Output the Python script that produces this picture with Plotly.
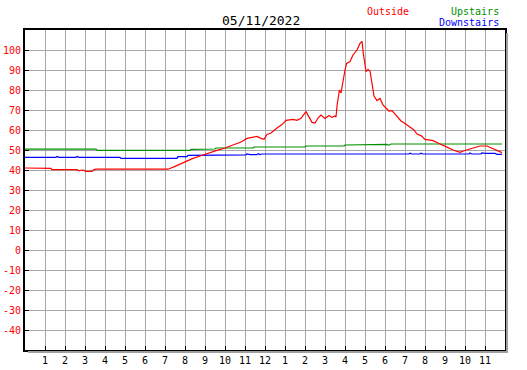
import plotly.graph_objects as go

# ---------------- data ----------------
title_text = "05/11/2022"

x_tick_vals = list(range(1, 24))
x_tick_text = ["1", "2", "3", "4", "5", "6", "7", "8", "9", "10", "11", "12",
               "1", "2", "3", "4", "5", "6", "7", "8", "9", "10", "11"]
y_tick_vals = [-40, -30, -20, -10, 0, 10, 20, 30, 40, 50, 60, 70, 80, 90, 100]
y_tick_text = ["-40", "-30", "-20", "-10", "0", "10", "20", "30", "40", "50",
               "60", "70", "80", "90", "100"]

outside_hours = [0.00, 1.30, 1.35, 2.60, 2.70, 2.85, 2.95, 3.05, 3.35, 3.45, 3.55,
                 7.15, 7.50, 8.00, 8.40, 8.75, 9.20, 9.60, 10.00, 10.40, 10.80,
                 11.10, 11.40, 11.60, 11.80, 11.95, 12.10, 12.30, 12.60, 12.85,
                 13.05, 13.40, 13.60, 13.80, 14.05, 14.20, 14.35, 14.50, 14.65,
                 14.80, 15.00, 15.20, 15.35, 15.50, 15.55, 15.60, 15.72, 15.80,
                 15.90, 16.00, 16.08, 16.25, 16.40, 16.60, 16.75, 16.85, 16.92,
                 16.98, 17.05, 17.15, 17.25, 17.35, 17.45, 17.60, 17.75, 17.90,
                 18.05, 18.20, 18.35, 18.55, 18.80, 19.00, 19.25, 19.45, 19.60,
                 19.80, 20.00, 20.40, 20.65, 20.90, 21.15, 21.40, 21.60, 21.75,
                 21.95, 22.10, 22.40, 22.75, 23.10, 23.35, 23.60, 23.85]
outside_temps = [41.0, 40.8, 40.2, 40.2, 39.6, 40.0, 39.8, 39.3, 39.3, 40.2, 40.4,
                 40.4, 41.8, 44.2, 45.8, 47.0, 48.6, 49.8, 51.0, 52.5, 54.0,
                 55.8, 56.4, 56.8, 55.8, 55.3, 57.8, 58.5, 61.0, 62.7,
                 64.8, 65.3, 64.8, 65.8, 69.2, 66.5, 63.8, 63.5, 66.0,
                 67.5, 65.8, 67.3, 66.3, 67.0, 66.5, 72.0, 80.0, 78.5,
                 85.0, 90.0, 93.3, 94.2, 97.5, 100.0, 103.3, 104.3, 98.0,
                 93.3, 89.2, 90.2, 89.5, 83.3, 77.0, 74.7, 75.8, 72.5,
                 70.8, 69.5, 69.7, 67.5, 64.5, 63.3, 61.3, 60.0, 58.0,
                 57.2, 55.3, 54.7, 53.5, 52.5, 51.2, 50.0, 49.2, 48.8,
                 49.6, 50.0, 51.0, 52.0, 52.0, 51.0, 50.0, 48.7]

upstairs_hours = [0.00, 3.55, 3.60, 8.25, 8.30, 9.50, 9.55, 11.40, 11.45, 14.00,
                  14.05, 15.95, 16.00, 18.05, 18.10, 18.20, 18.30, 23.85]
upstairs_temps = [50.4, 50.4, 49.8, 49.8, 50.3, 50.5, 51.0, 51.0, 51.5, 51.5,
                  52.0, 52.0, 52.5, 52.5, 52.8, 52.4, 53.0, 53.0]

downstairs_hours = [0.00, 1.55, 1.60, 1.70, 2.55, 2.60, 2.70, 4.75, 4.80, 7.60,
                    7.65, 8.10, 8.15, 9.35, 9.40, 11.05, 11.10, 11.25, 11.60,
                    11.65, 11.75, 11.85, 19.20, 19.25, 19.35, 19.75, 19.80, 19.90,
                    22.20, 22.25, 22.35, 22.80, 22.85, 23.00, 23.50, 23.60, 23.85]
downstairs_temps = [46.3, 46.3, 46.8, 46.3, 46.3, 46.8, 46.3, 46.3, 45.8, 45.8,
                    46.7, 46.7, 47.3, 47.3, 47.6, 47.6, 48.0, 47.7, 47.7,
                    48.1, 47.7, 48.0, 48.0, 48.4, 48.0, 48.0, 48.4, 48.0,
                    48.0, 48.5, 48.0, 48.0, 48.5, 48.3, 48.3, 47.8, 47.8]

# ---------------- figure ----------------
RED = "#ff0000"
GREEN = "#009000"
BLUE = "#0000ff"
GRID = "#a8a8a8"
FONT = "DejaVu Sans Mono"

fig = go.Figure()
fig.add_trace(go.Scatter(x=upstairs_hours, y=upstairs_temps, mode="lines",
                         line=dict(color=GREEN, width=1.2), showlegend=False))
fig.add_trace(go.Scatter(x=downstairs_hours, y=downstairs_temps, mode="lines",
                         line=dict(color=BLUE, width=1.2), showlegend=False))
fig.add_trace(go.Scatter(x=outside_hours, y=outside_temps, mode="lines",
                         line=dict(color=RED, width=1.2), showlegend=False))

W, H = 527, 370
L, T = 25, 30
pw, ph = 480, 320
R = W - L - pw
B = H - T - ph


def px(xp):
    return (xp - L) / pw


def py(yp):
    return (T + ph - yp) / ph


fig.update_layout(
    width=W, height=H,
    margin=dict(l=L, r=R, t=T, b=B, pad=0, autoexpand=False),
    paper_bgcolor="white", plot_bgcolor="white",
    font=dict(family=FONT, size=10, color="black"),
    hovermode=False,
    xaxis=dict(range=[0, 24], tickvals=x_tick_vals, ticktext=x_tick_text,
               ticks="inside", ticklen=4, tickcolor="black", tickwidth=1,
               showgrid=True, gridcolor=GRID, gridwidth=1, automargin=False,
               showline=True, linecolor="black", linewidth=2, mirror=True,
               zeroline=False, tickfont=dict(family=FONT, size=10, color="black")),
    yaxis=dict(range=[-50, 110], tickvals=y_tick_vals, ticktext=y_tick_text,
               ticks="inside", ticklen=4, tickcolor="black", tickwidth=1,
               showgrid=True, gridcolor=GRID, gridwidth=1, automargin=False,
               showline=True, linecolor="black", linewidth=2, mirror=True,
               zeroline=False, tickfont=dict(family=FONT, size=10, color=RED)),
    shapes=[
        dict(type="line", xref="paper", yref="paper",
             x0=px(507), x1=px(507), y0=py(353), y1=py(33),
             line=dict(color="#a0a0a0", width=2)),
        dict(type="line", xref="paper", yref="paper",
             x0=px(28), x1=px(508), y0=py(352), y1=py(352),
             line=dict(color="#a0a0a0", width=2)),
    ],
    annotations=[
        dict(text=title_text, xref="paper", yref="paper", x=px(261), y=py(20),
             xanchor="center", yanchor="middle", showarrow=False,
             font=dict(family=FONT, size=13, color="black")),
        dict(text="Outside", xref="paper", yref="paper", x=px(411), y=py(11),
             xanchor="right", yanchor="middle", showarrow=False,
             font=dict(family=FONT, size=10, color=RED)),
        dict(text="Upstairs", xref="paper", yref="paper", x=px(501), y=py(11),
             xanchor="right", yanchor="middle", showarrow=False,
             font=dict(family=FONT, size=10, color=GREEN)),
        dict(text="Downstairs", xref="paper", yref="paper", x=px(501), y=py(23),
             xanchor="right", yanchor="middle", showarrow=False,
             font=dict(family=FONT, size=10, color=BLUE)),
    ],
)

fig.write_html("out.html",
               config={"displayModeBar": False},
               post_script="document.body.style.margin='0';"
                           "document.body.style.overflow='hidden';")
